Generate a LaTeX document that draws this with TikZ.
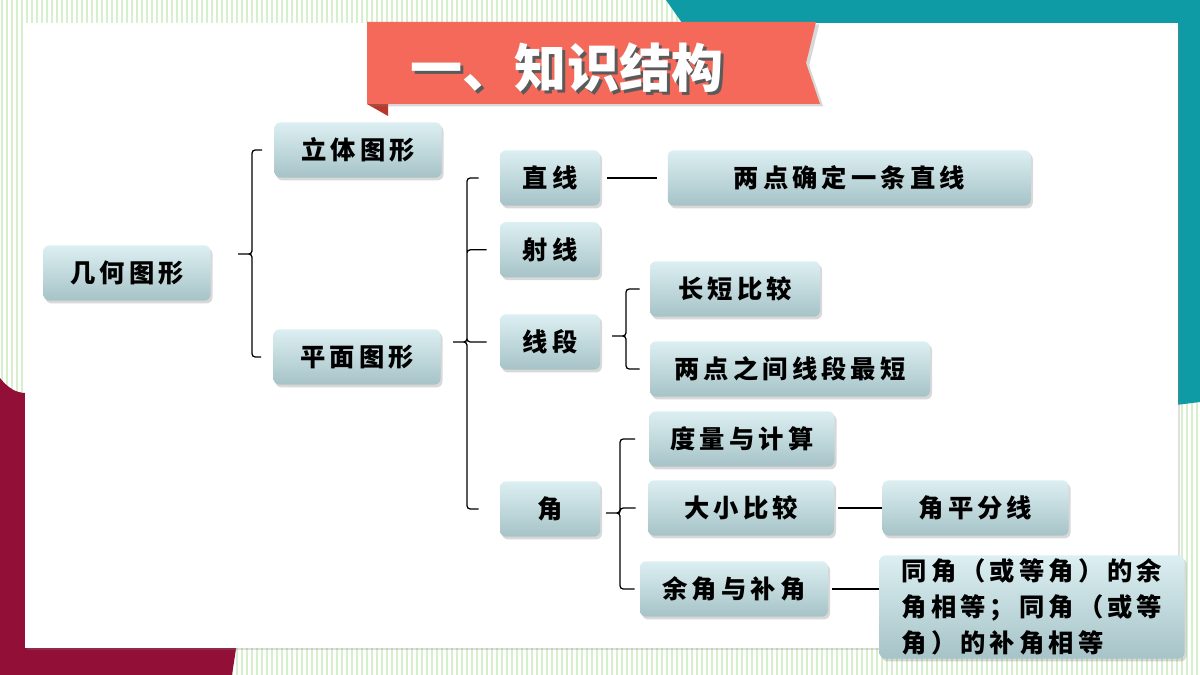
\documentclass[tikz,border=0pt]{standalone}
\usepackage{fontspec}
\usetikzlibrary{positioning, calc, shadows}
\newfontfamily\cjk{Noto Sans CJK SC}[LetterSpace=16]
\newfontfamily\cjktitle{Noto Sans CJK SC}
\definecolor{stripeGreen}{HTML}{D6EFCD}
\definecolor{frameTeal}{HTML}{0E9BA5}
\definecolor{frameCrimson}{HTML}{921038}
\definecolor{bannerRed}{HTML}{F4695A}
\definecolor{bannerFold}{HTML}{B8362A}
\definecolor{titleShade}{HTML}{5A5A5A}
\definecolor{boxTop}{HTML}{DCEFF2}
\definecolor{boxBottom}{HTML}{A6C3C7}

\begin{document}
\begin{tikzpicture}[
    x=0.025cm, y=-0.025cm,
    box/.style={rounded corners=0.15cm, top color=boxTop, bottom color=boxBottom,
        drop shadow={opacity=0.3, shadow xshift=0.05cm, shadow yshift=-0.07cm},
        minimum height=1.38cm, inner sep=0pt, text=black,
        font=\cjk\bfseries\fontsize{18}{22}\selectfont},
    wd/.style={minimum width=#1*0.025cm},
    bracket/.style={draw=black, line width=0.9pt, rounded corners=0.08cm},
    arm/.style={to path={(\tikztostart) -- ++(14,0) |- ([xshift=-#1*0.025cm]\tikztotarget.west)}},
    arm/.default=14,
    link/.style={draw=black, line width=0.9pt}
]
    \useasboundingbox (0,0) rectangle (1200,675);

    % striped paper and frame
    \fill[white] (0,0) rectangle (1200,675);
    \foreach \x in {2,7,...,1200}
        \draw[stripeGreen, line width=0.8pt] (\x,0) -- (\x,675);
    \fill[frameCrimson] (0,378) .. controls (8,388) and (16,393) .. (26,393) -- (275,393) -- (232,675) -- (0,675) -- cycle;
    \fill[frameTeal] (666,0) -- (1200,0) -- (1200,402) -- (1160,407) -- (1160,40) -- (694,40) -- cycle;
    \fill[white, drop shadow={opacity=0.25, shadow xshift=0.04cm, shadow yshift=-0.04cm}] (25,23) rectangle (1178,648);

    % title ribbon
    \fill[bannerFold] (367,104) -- (388,104) -- (388,116) -- cycle;
    \fill[bannerRed, drop shadow={opacity=0.3, shadow xshift=0.08cm, shadow yshift=-0.06cm}]
        (367,22) -- (816,22) -- (806,63) -- (820,104) -- (367,104) -- cycle;
    \node[text=titleShade, font=\cjktitle\bfseries\fontsize{37}{40}\selectfont] (titleShadow) at (570,71) {一、知识结构};
    \node[text=white, font=\cjktitle\bfseries\fontsize{37}{40}\selectfont] (title) at (567,68) {一、知识结构};

    % boxes
    \node[box, wd=167] (geo) at (127,273) {几何图形};
    \node[box, wd=167] (solid) at (358,150) {立体图形};
    \node[box, wd=167] (plane) at (357,357) {平面图形};
    \node[box, wd=100] (line) at (550,178) {直线};
    \node[box, wd=100, below=0.4cm of line] (ray) {射线};
    \node[box, wd=100] (seg) at (550,342) {线段};
    \node[box, wd=100] (angle) at (550,509) {角};
    \node[box, wd=363, right=1.68cm of line] (lineFact) {两点确定一条直线};
    \node[box, wd=170] (cmp) at (735,289) {长短比较};
    \node[box, wd=280] (shortest) at (790,369) {两点之间线段最短};
    \node[box, wd=185] (measure) at (742,439) {度量与计算};
    \node[box, wd=186] (size) at (741,508) {大小比较};
    \node[box, wd=186, right=1.2cm of size] (bisect) {角平分线};
    \node[box, wd=188] (compl) at (734,589) {余角与补角};
    \node[box, wd=305, minimum height=2.58cm, align=left,
        font=\cjk\bfseries\fontsize{18}{25.6}\selectfont] (fact) at (1032,607)
        {同角（或等角）的余\\角相等；同角（或等\\角）的补角相等};

    % brackets
    \coordinate (tipGeo) at (238,254);
    \coordinate (tipPlane) at (453,342);
    \coordinate (tipSeg) at (612,336);
    \coordinate (tipAngle) at (606,513);
    \path[bracket] (tipGeo) to[arm=12] (solid) (tipGeo) to[arm=12] (plane);
    \path[bracket] (tipPlane) to[arm=21] (line) (tipPlane) to[arm=13] (ray)
        (tipPlane) to[arm=13] (seg) (tipPlane) to[arm=21] (angle);
    \path[bracket] (tipSeg) to[arm=10] (cmp) (tipSeg) to[arm=10] (shortest);
    \path[bracket] (tipAngle) to[arm=14] (measure) (tipAngle) to[arm=12] (size)
        (tipAngle) to[arm=5] (compl);

    % links
    \draw[link, shorten <=0.18cm, shorten >=0.27cm] (line) -- (lineFact);
    \draw[link, shorten <=0.1cm] (size) -- (bisect);
    \draw[link, shorten <=0.1cm] (compl.east) -- (compl.east -| fact.west);
\end{tikzpicture}
\end{document}
